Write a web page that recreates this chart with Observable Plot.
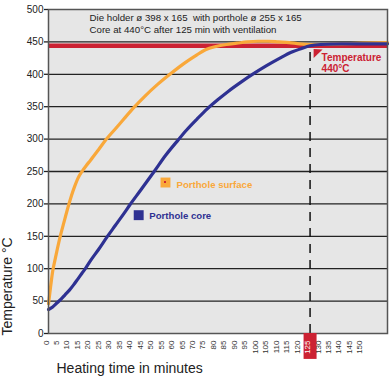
<!DOCTYPE html>
<html><head><meta charset="utf-8">
<script src="https://cdn.jsdelivr.net/npm/d3@7"></script>
<script src="https://cdn.jsdelivr.net/npm/@observablehq/plot@0.6"></script>
<style>body{margin:0;background:#fff} svg{display:block}</style>
</head><body><div id="chart"></div>
<script>
// Porthole surface (orange)
const surfaceTime = [0,1,2,3,4,5.4,7.5,9.7,11,12.5,14,16,18,20,24,27.7,32,36,41.2,46,52,58,64,70,75,80,85,90,95,100,105,110,115,120,125,130,140,150,162];
const surfaceTemp = [46,72,96,112,127,147,173,199,213,227,239,250,259,267,284,300,316,331,350,366,384,400,415,428,438,443,446,448,450,451,451,450,449,447,446,446,447,448,449];
// Porthole core (blue)
const coreTime = [0,2,4,6,8,10,12,14,16,18,20,24,28,32,36,39,44,50.5,56,61.8,66,71,76,81,86,92,98,104,110.6,116,121,125,130,140,150,162];
const coreTemp = [37,41,47,53,60,67,75,84,93,102,112,130,149,167,185,199,221,250,275,298,314,331,347,361,374,388,401,413,425,434,440,444,446,447,447,447];

const setpointTemp = 444;      // red target line
const coreReachedTime = 125;   // dashed marker / highlighted tick
const xTicks = [0,5,10,15,20,25,30,35,40,45,50,55,60,65,70,75,80,85,90,95,100,105,110,115,120,125,130,135,140,145,150];
const yTicks = [0,50,100,150,200,250,300,350,400,450,500];
const titleLines = ["Die holder ø 398 x 165  with porthole ø 255 x 165", "Core at 440°C after 125 min with ventilation"];
const seriesNames = ["Porthole surface", "Porthole core"];
const targetLabel = "Temperature\n440°C";
const xLabel = "Heating time in minutes";
const yLabel = "Temperature °C";

// annotation anchors (in data units)
const titleAnchor = {t: 19.6, temps: [487.6, 469]};
const legendAnchors = [{t: 55.9, temp: 233, tt: 61.2, ttemp: 230}, {t: 43.1, temp: 182.6, tt: 48.2, ttemp: 181}];
const targetAnchor = {t: 130.5, temp: 433.5, markT: 128.6, markTemp: 432};

const ORANGE = "#f9a83a", BLUE = "#2e3192", RED = "#cc2233";
const surface = surfaceTime.map((t,i)=>({t, temp: surfaceTemp[i]}));
const core = coreTime.map((t,i)=>({t, temp: coreTemp[i]}));
const legend = seriesNames.map((name,i)=>({name, color: i===0?ORANGE:BLUE, ...legendAnchors[i]}));
const speckles = [[-2.5,-2.5],[1.5,-3],[-0.5,0],[2.5,1],[-3,2.5],[0.5,3]];

const wedge = {draw(ctx){ ctx.moveTo(-4,-4.5); ctx.lineTo(5,-4); ctx.lineTo(-4,4.5); ctx.closePath(); }};

const chart = Plot.plot({
  width: 390, height: 390,
  marginLeft: 48, marginRight: 3, marginTop: 9, marginBottom: 57,
  x: {domain: [0, 162], axis: null},
  y: {domain: [0, 500]},
  style: {fontFamily: "'Liberation Sans', Arial, sans-serif", background: "white", color: "#222"},
  marks: [
    Plot.frame({fill: "#e6e6e6"}),
    Plot.ruleY(yTicks.filter(d=>d>0 && d<500), {stroke: "#222", strokeWidth: 1.3}),
    Plot.axisY({ticks: yTicks, tickSize: 4, tickPadding: 1, fontSize: 10, label: null, stroke: "#222", strokeWidth: 1.3}),
    Plot.ruleY([setpointTemp], {stroke: RED, strokeWidth: 4.5}),
    Plot.ruleX([coreReachedTime], {y1: 0, y2: 440, stroke: "#111", strokeWidth: 1.5, strokeDasharray: "9,7"}),
    Plot.line(surface, {x: "t", y: "temp", stroke: ORANGE, strokeWidth: 3.2, curve: "monotone-x"}),
    Plot.line(core, {x: "t", y: "temp", stroke: BLUE, strokeWidth: 3.2, curve: "monotone-x"}),
    Plot.frame({stroke: "#555", strokeWidth: 1.5}),
    // highlighted tick box
    Plot.ruleX([coreReachedTime], {y1: 0, y2: -40, stroke: RED, strokeWidth: 13}),
    Plot.text(xTicks, {x: d=>d, text: d=>String(d), frameAnchor: "bottom", rotate: -90, textAnchor: "end", dy: 7, fontSize: 8, fill: d=>d===coreReachedTime ? "white" : "#333"}),
    // title
    Plot.text(titleLines, {x: ()=>titleAnchor.t, y: (d,i)=>titleAnchor.temps[i], text: d=>d, textAnchor: "start", fontSize: 9.7, fill: "#222"}),
    // legend
    Plot.dot(legend, {x: "t", y: "temp", symbol: "square", r: 5.6, fill: "color", stroke: null}),
    Plot.dot(speckles, {x: ()=>legendAnchors[0].t, y: ()=>legendAnchors[0].temp, dx: d=>d[0], dy: d=>d[1], r: 0.7, fill: RED, stroke: null}),
    Plot.text(legend, {x: "tt", y: "ttemp", text: "name", fill: "color", textAnchor: "start", fontSize: 9.6, fontWeight: "bold"}),
    // target annotation
    Plot.dot([targetAnchor], {x: "markT", y: "markTemp", symbol: wedge, fill: RED, stroke: null}),
    Plot.text([targetLabel], {x: ()=>targetAnchor.t, y: ()=>targetAnchor.temp, text: d=>d, textAnchor: "start", lineAnchor: "top", fill: RED, fontSize: 10, fontWeight: "bold", lineHeight: 1.15}),
    // axis titles
    Plot.text([xLabel], {frameAnchor: "bottom-left", text: d=>d, textAnchor: "start", dx: 8, dy: 39, fontSize: 14, fill: "#222"}),
    Plot.text([yLabel], {frameAnchor: "bottom-left", text: d=>d, rotate: -90, textAnchor: "start", dx: -37, dy: 2, fontSize: 14, fill: "#222"})
  ]
});
document.getElementById("chart").append(chart);
</script>
</body></html>
